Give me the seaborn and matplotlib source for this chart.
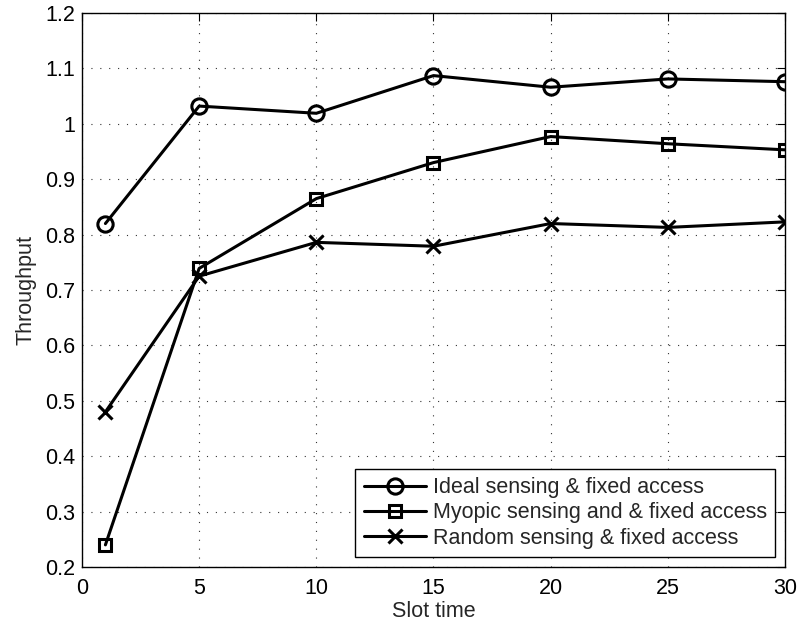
import matplotlib
matplotlib.use("Agg")
import matplotlib.pyplot as plt
import pandas as pd
import seaborn as sns

slots = [1, 5, 10, 15, 20, 25, 30]
ideal = [0.820, 1.032, 1.019, 1.087, 1.066, 1.081, 1.076]
myopic = [0.240, 0.739, 0.865, 0.930, 0.977, 0.964, 0.953]
random_sensing = [0.480, 0.725, 0.786, 0.779, 0.820, 0.813, 0.823]

names = ['Ideal sensing & fixed access',
         'Myopic sensing and & fixed access',
         'Random sensing & fixed access']
markers = ['o', 's', 'x']
msizes = [11, 9, 10]

sns.set_style('white')
plt.rcParams['font.family'] = ['Liberation Sans', 'DejaVu Sans']
fs = 15.5

fig = plt.figure(figsize=(7.99, 6.28), dpi=100)
ax = fig.add_axes([0.1026, 0.0971, 0.8799, 0.8822])

for vals, name, mk, ms in zip([ideal, myopic, random_sensing], names, markers, msizes):
    d = pd.DataFrame({'Slot time': slots, 'Throughput': vals})
    sns.lineplot(data=d, x='Slot time', y='Throughput', label=name, color='black',
                 linewidth=2.2, marker=mk, markersize=ms, markeredgewidth=2.2,
                 markerfacecolor='none', markeredgecolor='black', ax=ax)

ax.set_xlim(0, 30)
ax.set_ylim(0.2, 1.2)
ax.set_xticks([0, 5, 10, 15, 20, 25, 30])
ax.set_yticks([0.2, 0.3, 0.4, 0.5, 0.6, 0.7, 0.8, 0.9, 1, 1.1, 1.2])
ax.set_yticklabels(['0.2', '0.3', '0.4', '0.5', '0.6', '0.7', '0.8', '0.9', '1', '1.1', '1.2'])
ax.grid(True, linestyle=(0, (1, 7)), color='#333333', linewidth=0.8)
ax.tick_params(direction='in', length=6, width=0.8, top=True, right=True,
               labelsize=fs, colors='black')
ax.tick_params(axis='x', pad=8)
ax.tick_params(axis='y', pad=5)
for s in ax.spines.values():
    s.set_color('black')
    s.set_linewidth(1.0)
ax.set_xlabel('Slot time', fontsize=fs, labelpad=1)
ax.set_ylabel('Throughput', fontsize=fs, labelpad=6)

leg = ax.legend(loc='lower right', fontsize=fs, frameon=True, fancybox=False,
                edgecolor='black', framealpha=1, handlelength=2.9,
                borderpad=0.4, labelspacing=0.2, handletextpad=0.3,
                borderaxespad=0.45)
leg.get_frame().set_linewidth(1.0)

fig.savefig('out.png', dpi=100)
